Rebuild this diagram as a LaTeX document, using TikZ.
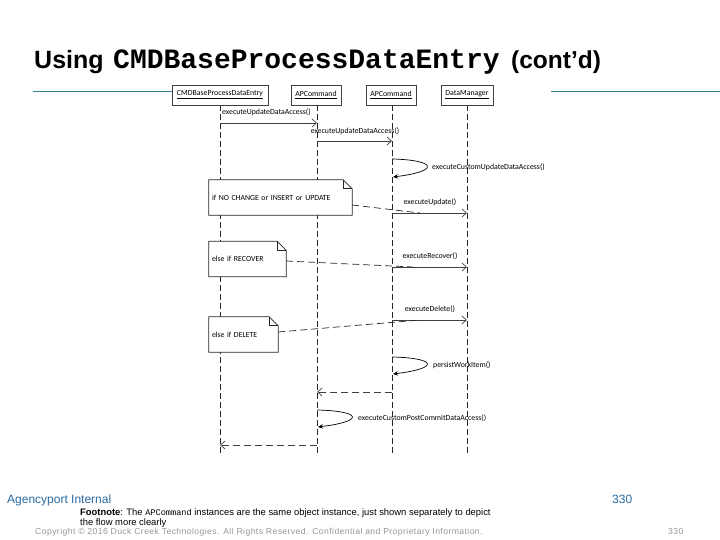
\documentclass[tikz,border=0pt]{standalone}
\usepackage{fontspec}
\setmainfont{Liberation Sans}
\newfontfamily\diag{Carlito}
\newfontfamily\monob{Liberation Mono}
\newfontfamily\copyfont[LetterSpace=5]{Liberation Sans}
\usetikzlibrary{arrows.meta,backgrounds}
\definecolor{teal1}{RGB}{50,130,155}
\definecolor{footblue}{RGB}{40,105,160}
\definecolor{copygray}{RGB}{150,150,150}
\begin{document}
\begin{tikzpicture}[x=1pt,y=-1pt,
  lifebox/.style={draw=black!75, fill=white, line width=0.7pt, minimum width=#1, minimum height=20pt, inner sep=0pt, font=\diag\fontsize{7.8}{9}\selectfont},
  lifeline/.style={draw=black!85, dash pattern=on 6pt off 3pt, line width=0.7pt},
  msg/.style={draw=black!75, line width=0.7pt, -{Straight Barb[length=4.5pt,width=8pt]}},
  ret/.style={draw=black!75, line width=0.7pt, dash pattern=on 7pt off 4pt, -{Straight Barb[length=4.5pt,width=8pt]}},
  selfcall/.style={draw=black, line width=0.7pt, -{Stealth[length=5pt,width=4.5pt]}},
  notelink/.style={draw=black!85, line width=0.7pt, dash pattern=on 7pt off 4pt},
  noteshape/.style={draw=black!85, fill=white, line width=0.7pt},
  lbl/.style={font=\diag\fontsize{7.8}{9}\selectfont, inner sep=0pt},
  notenode/.style={font=\diag\fontsize{7.8}{9}\selectfont, inner xsep=3pt, inner ysep=0pt, align=left, minimum height=35pt, text width=#1},
  tealline/.style={draw=teal1, line width=0.9pt},
]
\useasboundingbox (0,0) rectangle (720,540);

% title
\node[anchor=base west, inner sep=0pt, font=\fontsize{25}{28}\selectfont\bfseries] (t1) at (34,69) {Using};
\node[anchor=base west, inner sep=0pt, font=\monob\fontsize{28}{30}\selectfont\bfseries] (t2) at (113,69) {CMDBaseProcessDataEntry};
\node[anchor=base west, inner sep=0pt, font=\fontsize{24.5}{28}\selectfont\bfseries] (t3) at (511,69) {(cont’d)};

% lifeline boxes
\node[lifebox=96pt] (b1) at (220,95) {\underline{CMDBaseProcessDataEntry}};
\node[lifebox=50pt] (b2) at (316,95) {\underline{APCommand}};
\node[lifebox=50pt] (b3) at (391,95) {\underline{APCommand}};
\node[lifebox=52pt] (b4) at (467,95) {\underline{DataManager}};

% teal rules
\coordinate (tl) at (33,91);
\coordinate (tr) at (720,91);
\draw[tealline] (tl) -- (b1.west |- tl);
\coordinate (tr0) at (551,91);
\draw[tealline] (tr0) -- (tr);

% lifeline ends
\coordinate (e1) at (220,455);
\coordinate (e2) at (317,455);
\coordinate (e3) at (392,455);
\coordinate (e4) at (467,455);

% notes (text)
\node[notenode=137pt] (n1) at (280.5,197.5) {if NO CHANGE or INSERT or UPDATE};
\node[notenode=71pt] (n2) at (247.5,259) {else if RECOVER};
\node[notenode=63pt] (n3) at (243.5,334.5) {else if DELETE};

\begin{scope}[on background layer]
  \draw[lifeline] (b1.south -| e1) -- (e1);
  \draw[lifeline] (b2.south -| e2) -- (e2);
  \draw[lifeline] (b3.south -| e3) -- (e3);
  \draw[lifeline] (b4.south -| e4) -- (e4);
  \foreach \n in {n1,n2,n3}{
    \draw[noteshape] (\n.south west) -- (\n.south east) -- ([yshift=-9pt]\n.north east) -- ([xshift=-9pt]\n.north east) -- (\n.north west) -- cycle;
    \draw[noteshape, fill=none] ([xshift=-9pt]\n.north east) -- ([xshift=-9pt,yshift=-9pt]\n.north east) -- ([yshift=-9pt]\n.north east);
  }
\end{scope}

% message 1
\coordinate (m1a) at (220,123); \coordinate (m1b) at (317,123);
\draw[msg] (m1a) -- (m1b);
\node[lbl, anchor=west] (L1) at (222,112.5) {executeUpdateDataAccess()};
% message 2
\coordinate (m2a) at (317,141); \coordinate (m2b) at (392,141);
\draw[msg] (m2a) -- (m2b);
\node[lbl] (L2) at (355,131) {executeUpdateDataAccess()};
% self call 1
\coordinate (s1a) at (392,159); \coordinate (s1b) at (393,177);
\draw[selfcall] (s1a) .. controls +(44,1) and +(48,-6) .. (s1b);
\node[lbl, anchor=west] (L3) at (432,167.5) {executeCustomUpdateDataAccess()};
% executeUpdate
\coordinate (m4a) at (392,213); \coordinate (m4b) at (467,213);
\draw[msg] (m4a) -- (m4b);
\node[lbl] (L4) at (430,202) {executeUpdate()};
\coordinate (k1) at (420,213);
\draw[notelink] (n1.east |- 0,205) -- (k1);
% executeRecover
\coordinate (m5a) at (392,267); \coordinate (m5b) at (467,267);
\draw[msg] (m5a) -- (m5b);
\node[lbl] (L5) at (430,256) {executeRecover()};
\coordinate (k2) at (413,267);
\draw[notelink] (n2.east |- 0,261) -- (k2);
% executeDelete
\coordinate (m6a) at (392,320); \coordinate (m6b) at (467,320);
\draw[msg] (m6a) -- (m6b);
\node[lbl] (L6) at (430,309) {executeDelete()};
\coordinate (k3) at (420,320);
\draw[notelink] (n3.east |- 0,332) -- (k3);
% persistWorkItem
\coordinate (s2a) at (392,357); \coordinate (s2b) at (393,374);
\draw[selfcall] (s2a) .. controls +(44,1) and +(48,-6) .. (s2b);
\node[lbl, anchor=west] (L7) at (433,365) {persistWorkItem()};
% return 3 -> 2
\coordinate (r1a) at (392,392); \coordinate (r1b) at (317,392);
\draw[ret] (r1a) -- (r1b);
% executeCustomPostCommit
\coordinate (s3a) at (317,410); \coordinate (s3b) at (318,427);
\draw[selfcall] (s3a) .. controls +(44,1) and +(48,-6) .. (s3b);
\node[lbl, anchor=west] (L8) at (358,418) {executeCustomPostCommitDataAccess()};
% return 2 -> 1
\coordinate (r2a) at (317,445); \coordinate (r2b) at (220,445);
\draw[ret] (r2a) -- (r2b);

% footer
\node[anchor=base west, inner sep=0pt, text=footblue, font=\fontsize{12}{14}\selectfont] (ag) at (7,503) {Agencyport Internal};
\node[anchor=base west, inner sep=0pt, text=footblue, font=\fontsize{12}{14}\selectfont] (pg) at (612,503) {330};
\node[anchor=base west, inner sep=0pt, font=\fontsize{9.4}{10}\selectfont] (fn1) at (80,515) {\textbf{Footnote}: The {\monob\fontsize{8.6}{10}\selectfont APCommand} instances are the same object instance, just shown separately to depict};
\node[anchor=base west, inner sep=0pt, font=\fontsize{9.4}{10}\selectfont] (fn2) at (80,525) {the flow more clearly};
\node[anchor=base west, inner sep=0pt, text=copygray, font=\copyfont\fontsize{8.6}{10}\selectfont] (cp) at (35,534) {Copyright © 2016 Duck Creek Technologies. All Rights Reserved. Confidential and Proprietary Information.};
\node[anchor=base west, inner sep=0pt, text=copygray, font=\copyfont\fontsize{8.6}{10}\selectfont] (cpn) at (668,534) {330};
\end{tikzpicture}
\end{document}
